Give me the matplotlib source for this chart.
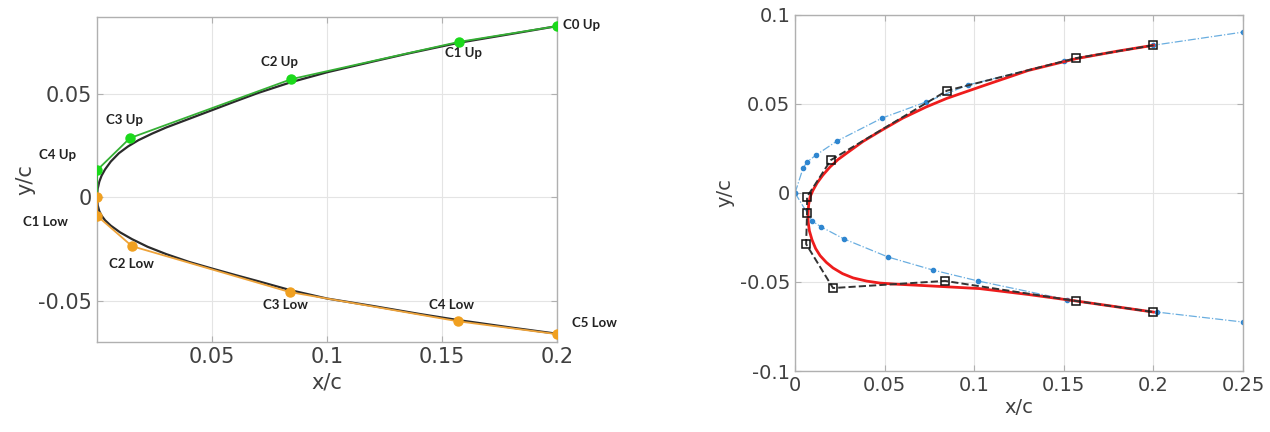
import matplotlib
matplotlib.use("Agg")
import matplotlib.pyplot as plt

# ---- left panel: control points and fitted profile ----
up_names = ["C0 Up", "C1 Up", "C2 Up", "C3 Up", "C4 Up"]
up_x = [0.2, 0.1574, 0.0845, 0.0143, 0.0]
up_y = [0.0826, 0.0750, 0.0570, 0.0285, 0.0130]

low_names = ["", "C1 Low", "C2 Low", "C3 Low", "C4 Low", "C5 Low"]
low_x = [0.0, 0.0, 0.0152, 0.0839, 0.157, 0.2]
low_y = [0.0, -0.0090, -0.0237, -0.0459, -0.0600, -0.0662]

prof_x = [0.2, 0.18, 0.157, 0.135, 0.12, 0.1, 0.0843, 0.07, 0.06, 0.05,
          0.04, 0.03, 0.024, 0.018, 0.0135, 0.0095, 0.006, 0.0035, 0.002,
          0.001, 0.0003, 0.0,
          0.0003, 0.001, 0.002, 0.0035, 0.006, 0.010, 0.0152, 0.022, 0.03,
          0.04, 0.05, 0.06, 0.07, 0.0839, 0.1, 0.12, 0.14, 0.157, 0.18, 0.2]
prof_y = [0.0826, 0.0788, 0.0745, 0.0693, 0.0655, 0.0603, 0.0555, 0.0503,
          0.0462, 0.0420, 0.0378, 0.0336, 0.0307, 0.0275, 0.0245, 0.0212,
          0.0172, 0.0134, 0.0104, 0.0075, 0.0041, 0.0,
          -0.0040, -0.0068, -0.0090, -0.0112, -0.0138, -0.0170, -0.0203,
          -0.0240, -0.0275, -0.0313, -0.0345, -0.0376, -0.0406, -0.0449,
          -0.0490, -0.0526, -0.0564, -0.0594, -0.0630, -0.0660]

# label offsets in pixels (text centre relative to the point)
up_off = [(6, 1), (4, -11), (-12, 17), (-5, 18), (-39, 15)]
low_off = [None, (-52, -6), (-1, -18), (-5, -13), (-7, 16), (37, 11)]

# ---- right panel ----
ref_up_x = [0.0, 0.0045, 0.0067, 0.0117, 0.0234, 0.0486, 0.073, 0.0966,
            0.15, 0.2, 0.25]
ref_up_y = [0.0, 0.0140, 0.0174, 0.0213, 0.0292, 0.0421, 0.0511, 0.0607,
            0.0740, 0.0830, 0.0904]
ref_low_x = [0.0, 0.0095, 0.0145, 0.0273, 0.052, 0.077, 0.102, 0.152,
             0.202, 0.25]
ref_low_y = [0.0, -0.0157, -0.0190, -0.0258, -0.0360, -0.0433, -0.0494,
             -0.0600, -0.0669, -0.0725]

poly_x = [0.2, 0.157, 0.0848, 0.020, 0.0067, 0.0067, 0.0062, 0.0212,
          0.0837, 0.157, 0.2]
poly_y = [0.0830, 0.0758, 0.0575, 0.0185, -0.0022, -0.0115, -0.0287,
          -0.0534, -0.0494, -0.0607, -0.0669]

fit_x = [0.2, 0.18, 0.157, 0.13, 0.1032, 0.0848, 0.0731, 0.06, 0.0486,
         0.038, 0.029, 0.024, 0.0195, 0.0155, 0.0123, 0.0100, 0.0084,
         0.0076, 0.0073, 0.0073, 0.0080, 0.0095, 0.0115, 0.014, 0.0175,
         0.0212, 0.0265, 0.0324, 0.040, 0.0474, 0.056, 0.066, 0.0848,
         0.103, 0.13, 0.157, 0.2]
fit_y = [0.0830, 0.0797, 0.0755, 0.0688, 0.0596, 0.0532, 0.0483, 0.0420,
         0.0354, 0.0290, 0.0225, 0.0188, 0.0146, 0.0100, 0.0056, 0.0015,
         -0.0022, -0.0065, -0.0112, -0.0160, -0.0212, -0.0264, -0.0312,
         -0.0352, -0.0390, -0.0421, -0.0453, -0.0477, -0.0495, -0.0506,
         -0.0512, -0.0517, -0.0527, -0.0537, -0.0570, -0.0607, -0.0669]

TICK_COL = "#404040"
SPINE_COL = "#b0b0b0"
GRID_COL = "#e4e4e4"


def style_axes(ax):
    for s in ax.spines.values():
        s.set_color(SPINE_COL)
        s.set_linewidth(1.0)
    ax.tick_params(direction="in", length=4, color=SPINE_COL,
                   labelcolor=TICK_COL, labelsize=14, top=True, right=True,
                   labeltop=False, labelright=False)
    ax.grid(True, color=GRID_COL, linewidth=0.8)
    ax.set_axisbelow(True)


fig = plt.figure(figsize=(12.7, 4.32), dpi=100)

# left
ax1 = fig.add_axes([0.0764, 0.2083, 0.3622, 0.7523])
ax1.plot(prof_x, prof_y, color="#2b2b2b", lw=1.6, zorder=2,
         solid_joinstyle="round")
ax1.plot(up_x + [0.0], up_y + [0.0], color="#35b035", lw=1.3, zorder=3)
ax1.plot(up_x, up_y, "o", color="#1bd91b", ms=6.5, zorder=5)
ax1.plot(low_x, low_y, color="#eea33a", lw=1.3, zorder=3)
ax1.plot(low_x, low_y, "o", color="#f0a020", ms=6.5, zorder=5)

lab_font = dict(family=["Lato", "DejaVu Sans"], weight="bold", size=9.5,
                color="#222222")
for n, x, y, off in zip(up_names, up_x, up_y, up_off):
    ax1.annotate(n, (x, y), xytext=off, textcoords="offset pixels",
                 ha="left" if n == "C0 Up" else "center", va="center",
                 annotation_clip=False, **lab_font)
for n, x, y, off in zip(low_names, low_x, low_y, low_off):
    if not n:
        continue
    ax1.annotate(n, (x, y), xytext=off, textcoords="offset pixels",
                 ha="center", va="center", annotation_clip=False, **lab_font)

ax1.set_xlim(0, 0.2)
ax1.set_ylim(-0.070, 0.087)
ax1.set_xticks([0.05, 0.1, 0.15, 0.2])
ax1.set_xticklabels(["0.05", "0.1", "0.15", "0.2"])
ax1.set_yticks([-0.05, 0, 0.05])
ax1.set_yticklabels(["-0.05", "0", "0.05"])
style_axes(ax1)
ax1.tick_params(labelsize=15)
ax1.set_xlabel("x/c", fontsize=15, color=TICK_COL, labelpad=4)
ax1.set_ylabel("y/c", fontsize=15, color=TICK_COL, labelpad=2)

# right
ax2 = fig.add_axes([0.626, 0.1412, 0.3528, 0.8241])
ax2.plot(ref_up_x, ref_up_y, "-.", color="#6aaee0", lw=0.9, marker="o",
         ms=3, mfc="#2f86d0", mec="#2f86d0", zorder=2)
ax2.plot(ref_low_x, ref_low_y, "-.", color="#6aaee0", lw=0.9, marker="o",
         ms=3, mfc="#2f86d0", mec="#2f86d0", zorder=2)
ax2.plot(fit_x, fit_y, color="#ee1c1c", lw=2.0, zorder=3,
         solid_joinstyle="round")
ax2.plot(poly_x, poly_y, "--", color="#333333", lw=1.4, marker="s", ms=5.5,
         mfc="none", mec="#111111", mew=1.1, zorder=4)

ax2.set_xlim(0, 0.25)
ax2.set_ylim(-0.1, 0.1)
ax2.set_xticks([0, 0.05, 0.1, 0.15, 0.2, 0.25])
ax2.set_xticklabels(["0", "0.05", "0.1", "0.15", "0.2", "0.25"])
ax2.set_yticks([-0.1, -0.05, 0, 0.05, 0.1])
ax2.set_yticklabels(["-0.1", "-0.05", "0", "0.05", "0.1"])
style_axes(ax2)
ax2.set_xlabel("x/c", fontsize=14, color=TICK_COL, labelpad=2)
ax2.set_ylabel("y/c", fontsize=14, color=TICK_COL, labelpad=4)

fig.savefig("out.png", dpi=100)
